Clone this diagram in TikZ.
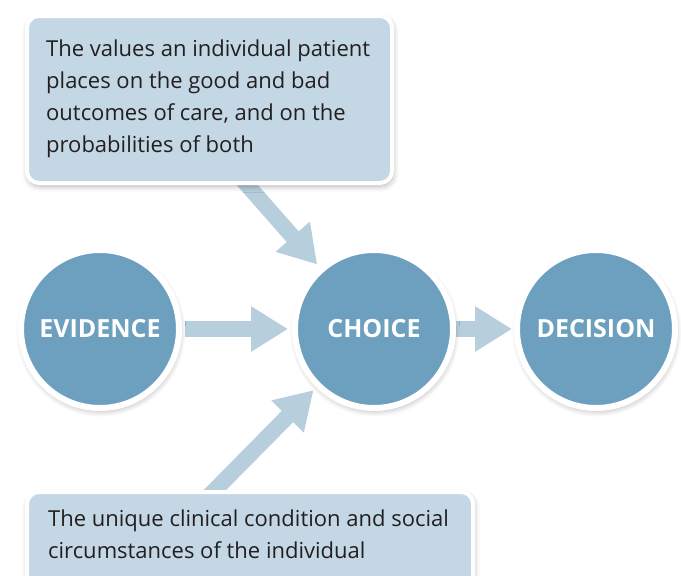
\documentclass[tikz,border=0pt]{standalone}
\usepackage{fontspec}
\setmainfont{Open Sans}
\usetikzlibrary{arrows.meta,shadows.blur}
\definecolor{circblue}{HTML}{6DA0BF}
\definecolor{boxblue}{HTML}{C3D7E4}
\definecolor{arrblue}{HTML}{B7CEDC}
\definecolor{txt}{HTML}{231F20}
\pgfdeclarelayer{background}
\pgfsetlayers{background,main}
\tikzset{
  circ/.style={circle, minimum size=158pt, inner sep=0pt, fill=circblue, draw=white, line width=6pt,
    text=white, font=\fontsize{25}{28}\selectfont\bfseries,
    blur shadow={shadow xshift=1pt, shadow yshift=-3pt, shadow blur steps=10, shadow opacity=30, shadow blur radius=6pt}},
  infobox/.style={rectangle, rounded corners=12pt, fill=boxblue, draw=white, line width=4pt, inner sep=0pt,
    blur shadow={shadow xshift=1pt, shadow yshift=-3pt, shadow blur steps=10, shadow opacity=30, shadow blur radius=6pt}},
  infotext/.style={anchor=north west, inner sep=0pt, align=left, text=txt,
    font=\fontsize{22}{32}\selectfont},
  bigarrow/.style={draw=arrblue, line width=16pt, -{Triangle[width=43pt,length=37pt]}}
}
\begin{document}
\begin{tikzpicture}[x=1pt,y=-1pt]
\useasboundingbox (0,0) rectangle (681,576);
% circles
\node[circ] (ev) at (100,329) {EVIDENCE};
\node[circ] (ch) at (374,329) {CHOICE};
\node[circ] (de) at (596,329) {DECISION};
% boxes
\node[infobox, minimum width=365pt, minimum height=167pt, anchor=north west] (topbox) at (25,14) {};
\node[infotext] (toptext) at (46,40) {The values an individual patient\\places on the good and bad\\outcomes of care, and on the\\probabilities of both};
\node[infobox, minimum width=446pt, minimum height=110pt, anchor=north west] (botbox) at (25,490) {};
\node[infotext] (bottext) at (48,510) {The unique clinical condition and social\\circumstances of the individual};
% arrows
\coordinate (ts) at (234,170);
\coordinate (bs) at (205,500);
\begin{pgfonlayer}{background}
\draw[bigarrow, shorten <=3pt, shorten >=4pt] (ev.east) -- (ch.west);
\draw[bigarrow, shorten >=2pt] (ch.east) -- (de.west);
\draw[bigarrow, shorten >=4pt] (ts) -- (ch);
\draw[bigarrow, shorten >=4pt] (bs) -- (ch);
\end{pgfonlayer}
\end{tikzpicture}
\end{document}
